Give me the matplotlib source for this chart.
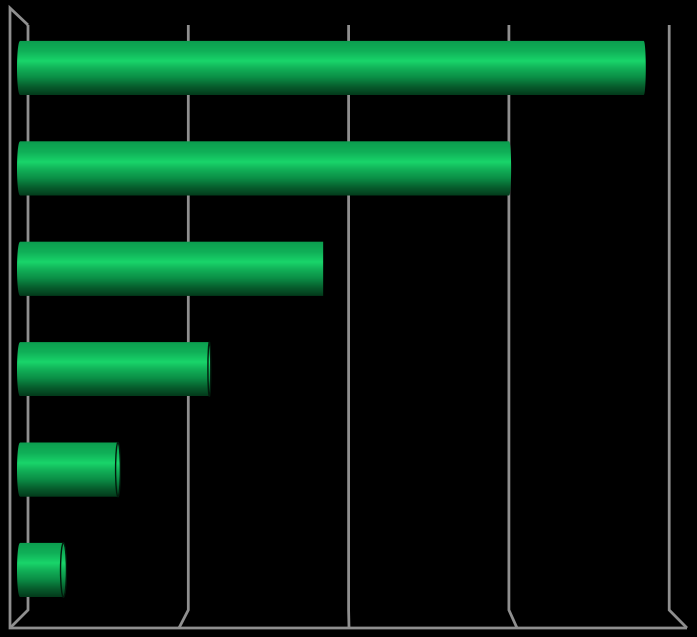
import numpy as np
import matplotlib
matplotlib.use("Agg")
import matplotlib.pyplot as plt
from matplotlib.colors import LinearSegmentedColormap
from matplotlib.patches import Polygon, Ellipse

ranks = [0, 1, 2, 3, 4, 5]
values = [39.1, 30.7, 19.1, 12.0, 6.3, 2.9]
grid_values = [0, 10, 20, 30, 40]

W, H = 697, 637
PX = 16.03          # pixels per value unit
X0 = 17             # pixel of value 0 on the bar plane
Y0, DY = 68, 100.4  # pixel of first category, category spacing
BAR_H = 0.54

fig = plt.figure(figsize=(W / 100, H / 100), dpi=100, facecolor="black")
ax = fig.add_axes([0, 0, 1, 1], facecolor="black")
ax.set_xlim(-X0 / PX, (W - X0) / PX)
ax.set_ylim((H - Y0) / DY, -Y0 / DY)
ax.axis("off")

GREY = "#8f8f8f"
LW = 2.0
depth_x = 11 / PX          # back wall offset in value units
front = [10, 179, 349, 517, 687]
top_y = (25 - Y0) / DY
back_y = (610 - Y0) / DY
floor_y = (628 - Y0) / DY
wall_top = (8 - Y0) / DY


def line(xs, ys):
    ax.plot(xs, ys, color=GREY, lw=LW, solid_capstyle="butt",
            solid_joinstyle="miter", zorder=1)


for v, fx in zip(grid_values, front):
    bx = v + depth_x
    fv = (fx - X0) / PX
    line([bx, bx, fv], [top_y, back_y, floor_y])
wall_x = (10 - X0) / PX
line([depth_x, wall_x, wall_x, (687 - X0) / PX],
     [top_y, wall_top, floor_y, floor_y])

cmap = LinearSegmentedColormap.from_list("cyl", [
    (0.00, "#0c9c4e"), (0.20, "#10b058"), (0.38, "#19d56a"),
    (0.50, "#12b45a"), (0.68, "#0b8e46"), (0.85, "#075c2c"),
    (1.00, "#033a1b")])
grad = np.linspace(0, 1, 256).reshape(-1, 1)

t = np.linspace(-1, 1, 60)
for r, v in zip(ranks, values):
    half = BAR_H / 2
    ys = r + t * half
    round_t = np.sqrt(1 - t ** 2)
    left = (3 / PX) * (1 - round_t)
    end_px = X0 + v * PX
    convex = end_px > 349 + 80
    bulge = 2.0 / PX if convex else 0
    right = v + bulge * round_t
    verts = np.r_[np.c_[right, ys], np.c_[left[::-1], ys[::-1]]]
    poly = Polygon(verts, closed=True, transform=ax.transData)
    im = ax.imshow(grad, cmap=cmap, aspect="auto", zorder=2,
                   extent=[-1, v + 1, r + half, r - half], vmin=0, vmax=1)
    im.set_clip_path(poly)
    if not convex:
        a = max(1.0, (349 - end_px) * 3.0 / 290)
        if a > 1.2:
            el = Ellipse((v, r), 2 * a / PX, BAR_H, transform=ax.transData)
            cap = ax.imshow(grad, cmap=cmap, aspect="auto", zorder=3,
                            extent=[v - 1, v + 1, r + half, r - half],
                            vmin=0, vmax=1)
            cap.set_clip_path(el)
            ax.add_patch(Ellipse((v, r), 2 * a / PX, BAR_H, facecolor="none",
                                 edgecolor="#021a0c", lw=1.0, zorder=4))

ax.set_xlim(-X0 / PX, (W - X0) / PX)
ax.set_ylim((H - Y0) / DY, -Y0 / DY)
fig.savefig("out.png", dpi=100, facecolor="black")
